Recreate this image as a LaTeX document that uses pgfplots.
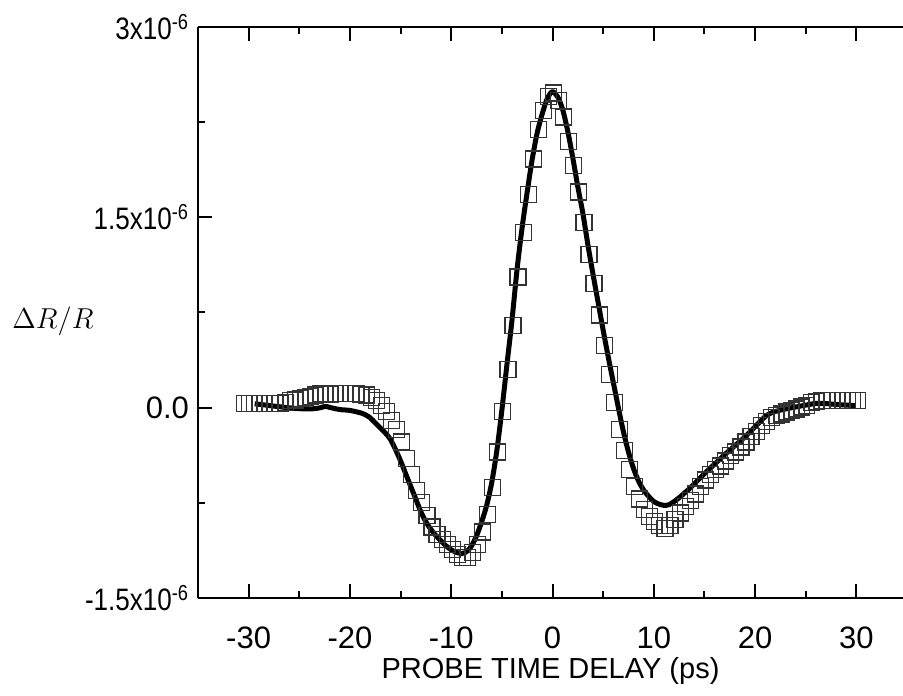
\documentclass[border=0pt]{standalone}
\usepackage{fontspec}
\setmainfont{Liberation Sans}
\usepackage{graphicx}
\usepackage{pgfplots}
\pgfplotsset{compat=1.18}

\newcommand{\sci}[1]{\scalebox{0.84}[1]{#1x10\textsuperscript{-6}}}

% measured reflectivity change (units of 1e-6), step 0.5 ps
\pgfplotstableread{
t v
-30.4 0.035
-29.9 0.035
-29.4 0.035
-28.9 0.035
-28.4 0.035
-27.9 0.035
-27.4 0.035
-26.9 0.035
-26.4 0.040
-25.9 0.055
-25.4 0.060
-24.9 0.070
-24.4 0.080
-23.9 0.085
-23.4 0.100
-22.9 0.110
-22.4 0.110
-21.9 0.105
-21.4 0.110
-20.9 0.110
-20.4 0.110
-19.9 0.110
-19.4 0.110
-18.9 0.105
-18.4 0.100
-17.9 0.080
-17.4 0.055
-16.9 0.020
-16.4 -0.030
-15.9 -0.100
-15.4 -0.170
-14.9 -0.270
-14.4 -0.400
-13.9 -0.530
-13.4 -0.650
-12.9 -0.750
-12.4 -0.850
-11.9 -0.940
-11.4 -1.000
-10.9 -1.040
-10.4 -1.080
-9.9 -1.120
-9.4 -1.160
-8.9 -1.180
-8.4 -1.180
-7.9 -1.140
-7.4 -1.080
-6.9 -0.980
-6.4 -0.840
-5.9 -0.630
-5.4 -0.350
-4.9 -0.030
-4.4 0.300
-3.9 0.650
-3.4 1.030
-2.9 1.380
-2.4 1.680
-1.9 1.960
-1.4 2.190
-0.9 2.340
-0.4 2.450
0.1 2.480
0.6 2.420
1.1 2.290
1.6 2.100
2.1 1.910
2.6 1.700
3.1 1.460
3.6 1.210
4.1 0.980
4.6 0.730
5.1 0.490
5.6 0.260
6.1 0.040
6.6 -0.170
7.1 -0.340
7.6 -0.490
8.1 -0.620
8.6 -0.720
9.1 -0.800
9.6 -0.860
10.1 -0.900
10.6 -0.930
11.1 -0.950
11.6 -0.930
12.1 -0.880
12.6 -0.830
13.1 -0.780
13.6 -0.730
14.1 -0.680
14.6 -0.620
15.1 -0.570
15.6 -0.530
16.1 -0.490
16.6 -0.460
17.1 -0.420
17.6 -0.380
18.1 -0.350
18.6 -0.310
19.1 -0.270
19.6 -0.230
20.1 -0.190
20.6 -0.140
21.1 -0.110
21.6 -0.080
22.1 -0.060
22.6 -0.050
23.1 -0.035
23.6 -0.020
24.1 -0.010
24.6 0.005
25.1 0.020
25.6 0.040
26.1 0.050
26.6 0.055
27.1 0.055
27.6 0.055
28.1 0.055
28.6 0.055
29.1 0.055
29.6 0.055
30.1 0.055
}\measured

% fitted curve
\pgfplotstableread{
t v
-29.4 0.030
-28.5 0.022
-27.5 0.012
-26.5 0.003
-25.5 -0.005
-24.5 -0.010
-23.5 -0.008
-22.9 0.000
-22.4 0.010
-21.9 0.000
-21.0 -0.015
-20.0 -0.022
-19.0 -0.040
-18.5 -0.055
-18.0 -0.080
-17.5 -0.120
-17.0 -0.160
-16.5 -0.200
-16.0 -0.250
-15.5 -0.330
-15.0 -0.420
-14.5 -0.520
-14.0 -0.620
-13.5 -0.720
-13.0 -0.820
-12.5 -0.900
-12.0 -0.960
-11.5 -1.010
-11.0 -1.050
-10.5 -1.090
-10.0 -1.120
-9.5 -1.140
-9.0 -1.150
-8.7 -1.145
-8.4 -1.130
-8.0 -1.090
-7.5 -1.010
-7.0 -0.900
-6.5 -0.770
-6.0 -0.590
-5.5 -0.340
-5.0 -0.020
-4.5 0.340
-4.0 0.690
-3.5 1.090
-3.0 1.420
-2.5 1.700
-2.0 1.960
-1.5 2.170
-1.0 2.320
-0.5 2.440
0.0 2.490
0.5 2.450
1.0 2.350
1.5 2.180
2.0 1.970
2.5 1.740
3.0 1.530
3.5 1.280
4.0 1.050
4.5 0.830
5.0 0.610
5.5 0.400
6.0 0.200
6.5 0.000
7.0 -0.190
7.5 -0.350
8.0 -0.480
8.5 -0.580
9.0 -0.650
9.5 -0.700
10.0 -0.740
10.5 -0.760
11.0 -0.770
11.5 -0.765
12.0 -0.740
12.5 -0.710
13.0 -0.675
13.5 -0.640
14.0 -0.600
15.0 -0.520
16.0 -0.445
17.0 -0.370
18.0 -0.300
19.0 -0.230
20.0 -0.150
20.5 -0.110
21.0 -0.070
21.5 -0.045
22.0 -0.030
23.0 -0.010
24.0 0.005
25.0 0.020
26.0 0.033
27.0 0.032
28.0 0.025
29.0 0.020
29.9 0.016
}\fitted

\begin{document}
\begin{tikzpicture}
\begin{axis}[
  name=ax,
  width=352.5pt, height=285.5pt,
  scale only axis,
  xmin=-35, xmax=34.6,
  ymin=-1.5, ymax=3,
  axis y line*=left,
  y axis line style={-},
  axis line style={line width=1pt},
  xtick={-30,-20,...,30},
  minor x tick num=1,
  ytick={-1.5,0,1.5,3},
  yticklabels={\sci{-1.5},0.0,\sci{1.5},\sci{3}},
  minor y tick num=1,
  tick align=inside,
  major tick length=7pt,
  minor tick length=3.5pt,
  tick style={line width=1pt, black},
  /pgf/number format/assume math mode=true,
  ticklabel style={font=\fontsize{15.5}{17}\selectfont},
  yticklabel style={xshift=-1pt},
  xticklabel style={yshift=-11pt},
  xlabel={PROBE TIME DELAY (ps)},
  xlabel style={font=\fontsize{14.5}{16}\selectfont, at={(axis description cs:0.5,0)}, anchor=north, yshift=-26pt},
  ylabel={$\Delta R/R$},
  ylabel style={font=\fontsize{15}{17}\selectfont, rotate=-90, at={(axis description cs:-0.2057,0.485)}, anchor=center},
]
\addplot[only marks, mark=square, mark size=4pt,
  mark options={draw=black!80, line width=0.6pt, fill=none}] table[x=t, y=v] {\measured};
\addplot[black, line width=2.5pt, smooth, tension=0.5, line join=round] table[x=t, y=v] {\fitted};
\end{axis}
\pgfresetboundingbox
\path ([shift={(-99pt,-49pt)}]ax.south west) rectangle ([shift={(0pt,13.5pt)}]ax.north east);
\end{tikzpicture}
\end{document}
